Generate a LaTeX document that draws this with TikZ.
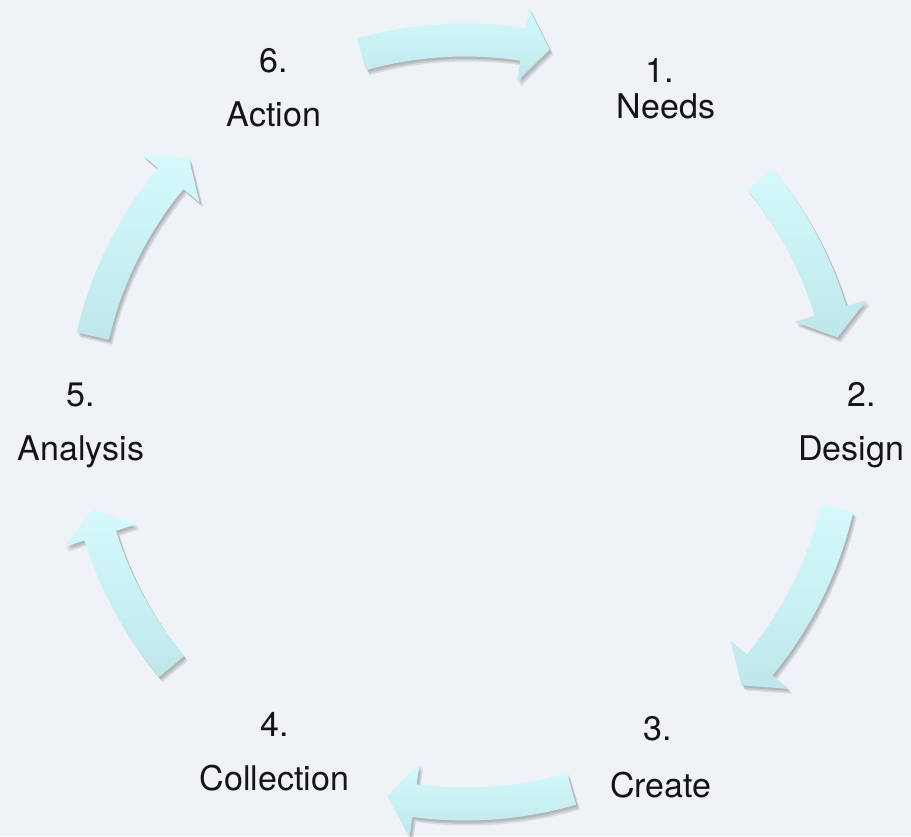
\documentclass[tikz,border=0pt]{standalone}
\usepackage{fontspec}
\setmainfont{TeX Gyre Heros}
\definecolor{bg}{HTML}{EFF2F7}
\definecolor{arrtop}{HTML}{D4FAFC}
\definecolor{arrbot}{HTML}{BFE7EB}
\definecolor{txt}{HTML}{141414}
\newcommand{\cycarrow}[3]{%
  \pgfmathsetmacro\hb{#3-sign(#3-#2)*4.1}%
  \path[#1] (#2:398.5) arc[start angle=#2,end angle=\hb,radius=398.5]
    -- (\hb:419.5) -- (#3:382) -- (\hb:344.5) -- (\hb:365.5)
    arc[start angle=\hb,end angle=#2,radius=365.5] -- cycle;}
\newcommand{\fullarrow}[2]{%
  \begin{scope}[shift={(2.5,-3.5)}]\cycarrow{shadowlayer}{#1}{#2}\end{scope}%
  \begin{scope}[shift={(3.5,-5)}]\cycarrow{shadowlayer}{#1}{#2}\end{scope}%
  \begin{scope}[shift={(1.5,-2)}]\cycarrow{shadowlayer}{#1}{#2}\end{scope}%
  \cycarrow{arrowbody}{#1}{#2}}
\tikzset{
  shadowlayer/.style={fill=black,fill opacity=0.09},
  arrowbody/.style={top color=arrtop,bottom color=arrbot},
  lbl/.style={anchor=base,text=txt,font=\fontsize{34}{40}\selectfont,inner sep=0pt}
}
\begin{document}
\begin{tikzpicture}[x=1pt,y=1pt]
\path[fill=bg] (0,0) rectangle (911,-836);
\useasboundingbox (0,0) rectangle (911,-836);
\begin{scope}[shift={(465,-422)}]
  \fullarrow{105.7}{77.2}
  \fullarrow{39.5}{12.8}
  \fullarrow{-13.1}{-43.6}
  \fullarrow{-73.8}{-101.7}
  \fullarrow{-140.2}{-166.8}
  \fullarrow{167}{136.3}
\end{scope}
\node[lbl] (n6a) at (274,-72.7) {6.};
\node[lbl] (n6b) at (274,-126) {Action};
\node[lbl] (n1a) at (660,-82) {1.};
\node[lbl] (n1b) at (666,-118) {Needs};
\node[lbl] (n2a) at (862,-406) {2.};
\node[lbl] (n2b) at (851,-460) {Design};
\node[lbl] (n3a) at (658,-740) {3.};
\node[lbl] (n3b) at (661,-797) {Create};
\node[lbl] (n4a) at (274.5,-736) {4.};
\node[lbl] (n4b) at (274.5,-790) {Collection};
\node[lbl] (n5a) at (81,-406.7) {5.};
\node[lbl] (n5b) at (81,-460) {Analysis};
\end{tikzpicture}
\end{document}
